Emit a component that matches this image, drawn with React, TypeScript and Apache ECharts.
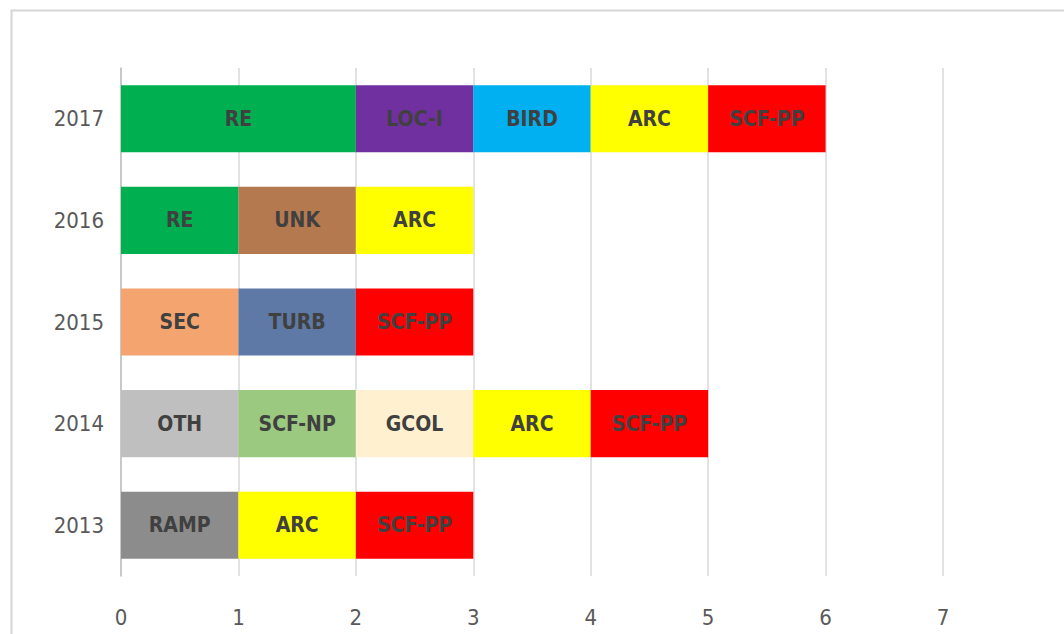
import React, { useEffect, useRef } from "react";
import * as echarts from "echarts";

const years = ["2013", "2014", "2015", "2016", "2017"];

const codes2013 = ["RAMP", "ARC", "SCF-PP"];
const counts2013 = [1, 1, 1];
const codes2014 = ["OTH", "SCF-NP", "GCOL", "ARC", "SCF-PP"];
const counts2014 = [1, 1, 1, 1, 1];
const codes2015 = ["SEC", "TURB", "SCF-PP"];
const counts2015 = [1, 1, 1];
const codes2016 = ["RE", "UNK", "ARC"];
const counts2016 = [1, 1, 1];
const codes2017 = ["RE", "LOC-I", "BIRD", "ARC", "SCF-PP"];
const counts2017 = [2, 1, 1, 1, 1];

const xTicks = [0, 1, 2, 3, 4, 5, 6, 7];

const codeColors: Record<string, string> = {
  RE: "#00b050",
  "LOC-I": "#7030a0",
  BIRD: "#00b0f0",
  ARC: "#ffff00",
  "SCF-PP": "#ff0000",
  UNK: "#b5794f",
  SEC: "#f3a46f",
  TURB: "#5e79a6",
  OTH: "#bfbfbf",
  "SCF-NP": "#9bc97f",
  GCOL: "#fff0cf",
  RAMP: "#8c8c8c",
};

const FONT = '"Liberation Sans Narrow", "DejaVu Sans Condensed", "Liberation Sans", sans-serif';

export default function App() {
  const ref = useRef<HTMLDivElement>(null);
  useEffect(() => {
    if (!ref.current) return;
    const chart = echarts.init(ref.current, undefined, { renderer: "svg" });
    const codesByYear = [codes2013, codes2014, codes2015, codes2016, codes2017];
    const countsByYear = [counts2013, counts2014, counts2015, counts2016, counts2017];
    const maxSlots = Math.max(...codesByYear.map((c) => c.length));
    const series: any[] = [];
    for (let s = 0; s < maxSlots; s++) {
      series.push({
        type: "bar",
        stack: "total",
        barWidth: "66%",
        data: years.map((_, yi) => {
          const code = codesByYear[yi][s];
          if (code === undefined) return { value: null };
          return {
            value: countsByYear[yi][s],
            code,
            itemStyle: { color: codeColors[code] },
          };
        }),
        label: {
          show: true,
          position: "inside",
          color: "#404040",
          fontWeight: "bold",
          fontSize: 21,
          fontFamily: FONT,
          formatter: (p: any) => (p.data && p.data.code ? p.data.code : ""),
        },
      });
    }
    chart.setOption({
      animation: false,
      backgroundColor: "#ffffff",
      grid: { left: 121, right: 121, top: 68, bottom: 58 },
      graphic: [
        {
          type: "rect",
          left: 9,
          top: 8,
          shape: { width: 1200, height: 800 },
          style: { fill: "none", stroke: "#d6d6d6", lineWidth: 2 },
          silent: true,
        },
      ],
      xAxis: {
        type: "value",
        min: xTicks[0],
        max: xTicks[xTicks.length - 1],
        interval: 1,
        axisLine: { show: false },
        axisTick: { show: false },
        splitLine: { show: true, lineStyle: { color: "#d9d9d9", width: 1.5 } },
        axisLabel: { color: "#595959", fontSize: 22, fontFamily: FONT, margin: 30 },
      },
      yAxis: {
        type: "category",
        data: years,
        axisLine: { show: true, lineStyle: { color: "#bfbfbf", width: 1.5 } },
        axisTick: { show: false },
        axisLabel: { color: "#595959", fontSize: 22, fontFamily: FONT, margin: 17 },
      },
      series,
    });
    return () => chart.dispose();
  }, []);
  return (
    <div
      ref={ref}
      style={{ position: "fixed", left: 0, top: 0, width: 1064, height: 634 }}
    />
  );
}
